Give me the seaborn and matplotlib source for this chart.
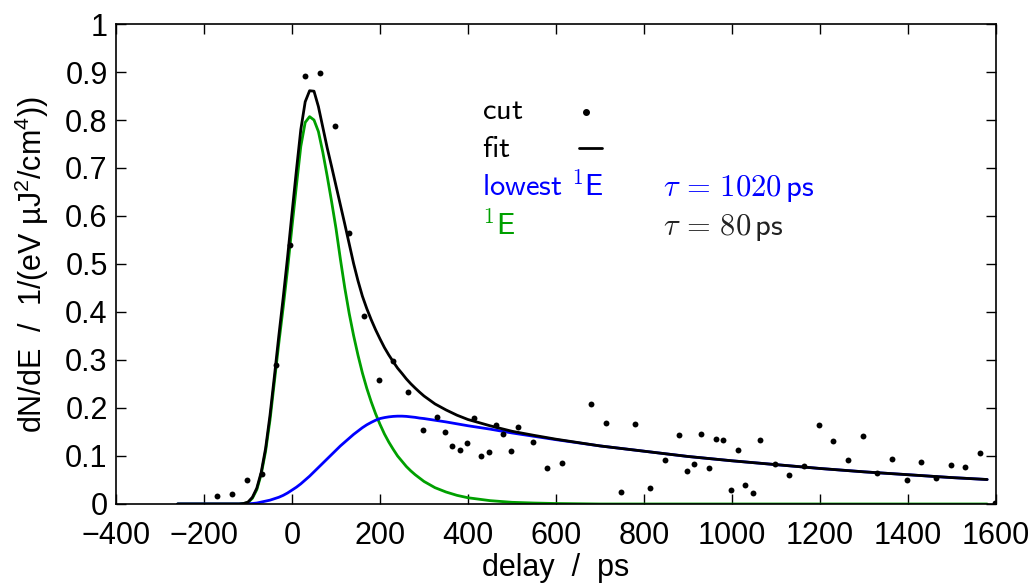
import numpy as np
import pandas as pd
import seaborn as sns
import matplotlib.pyplot as plt

# measured cut (delay in ps, dN/dE)
delay_cut = [-169.5, -135.5, -103, -69, -36.4, -3.6, 30.5, 63.7, 97, 129.6,
             163.7, 197.8, 230.4, 264.5, 297, 330.5, 347.8, 364.5, 381, 397,
             413.7, 430.4, 447, 463.6, 480.4, 497, 513.7, 547, 580.4, 613.6,
             680.4, 713.7, 747, 780.4, 813.7, 847, 880.4, 897, 913.7, 930.4,
             947, 963.7, 980.4, 997, 1013.7, 1030.4, 1047, 1063.7, 1097, 1130.4,
             1163.7, 1197, 1230.4, 1263.7, 1297, 1330.4, 1363.7, 1397, 1430.4, 1463.7,
             1497, 1530.4, 1563.7, 1597]
dnde_cut = [0.016, 0.020, 0.049, 0.0625, 0.290, 0.540, 0.892, 0.897, 0.788, 0.565,
            0.392, 0.258, 0.297, 0.233, 0.154, 0.181, 0.150, 0.121, 0.113, 0.128,
            0.179, 0.101, 0.108, 0.165, 0.146, 0.111, 0.160, 0.129, 0.074, 0.086,
            0.209, 0.168, 0.026, 0.166, 0.033, 0.092, 0.144, 0.068, 0.083, 0.146,
            0.076, 0.135, 0.133, 0.030, 0.1125, 0.040, 0.022, 0.133, 0.083, 0.061,
            0.0785, 0.165, 0.132, 0.092, 0.142, 0.065, 0.094, 0.050, 0.0875, 0.0535,
            0.082, 0.077, 0.1055, 0.003]

# fit curves
delay_fit = [-260, -120, -110, -100, -90, -80, -70, -60, -50, -40,
             -30, -20, -10, 0, 10, 20, 30, 40, 50, 60,
             70, 80, 90, 100, 110, 120, 130, 140, 150, 160,
             170, 180, 190, 200, 210, 220, 230, 240, 250, 260,
             270, 280, 290, 300, 325, 350, 375, 400, 450, 500,
             550, 600, 700, 800, 900, 1000, 1100, 1200, 1300, 1400,
             1500, 1580]
fit_total = [0, 0, 0.001, 0.004, 0.014, 0.033, 0.066, 0.116, 0.185, 0.266,
             0.35, 0.43, 0.515, 0.606, 0.695, 0.78, 0.838, 0.861, 0.86, 0.828,
             0.785, 0.742, 0.703, 0.663, 0.623, 0.583, 0.542, 0.501, 0.465, 0.433,
             0.407, 0.384, 0.363, 0.344, 0.326, 0.3105, 0.2965, 0.283, 0.272, 0.2605,
             0.2505, 0.2415, 0.233, 0.225, 0.2085, 0.196, 0.185, 0.176, 0.163, 0.1515,
             0.143, 0.135, 0.121, 0.110, 0.099, 0.090, 0.082, 0.074, 0.067, 0.061,
             0.055, 0.051]
fit_lowest_1E = [0, 0, 0, 0.0005, 0.001, 0.002, 0.004, 0.006, 0.008, 0.011,
                 0.014, 0.018, 0.023, 0.029, 0.035, 0.042, 0.05, 0.058, 0.067, 0.076,
                 0.085, 0.094, 0.103, 0.112, 0.121, 0.129, 0.137, 0.145, 0.152, 0.159,
                 0.165, 0.170, 0.1745, 0.178, 0.180, 0.1815, 0.1825, 0.183, 0.183, 0.1825,
                 0.1815, 0.1805, 0.179, 0.178, 0.1745, 0.171, 0.167, 0.163, 0.156, 0.148,
                 0.141, 0.134, 0.121, 0.110, 0.099, 0.090, 0.082, 0.074, 0.067, 0.061,
                 0.055, 0.051]
fit_1E = [0, 0, 0.001, 0.003, 0.012, 0.03, 0.062, 0.11, 0.175, 0.255,
          0.335, 0.41, 0.49, 0.578, 0.663, 0.745, 0.795, 0.807, 0.80, 0.776,
          0.733, 0.683, 0.63, 0.574, 0.51, 0.45, 0.397, 0.351, 0.310, 0.273,
          0.241, 0.213, 0.188, 0.166, 0.146, 0.129, 0.114, 0.100, 0.089, 0.078,
          0.069, 0.061, 0.054, 0.047, 0.034, 0.025, 0.018, 0.013, 0.007, 0.0035,
          0.002, 0.001, 0, 0, 0, 0, 0, 0, 0, 0,
          0, 0]

x_ticks = [-400, -200, 0, 200, 400, 600, 800, 1000, 1200, 1400, 1600]
y_ticks = [0, 0.1, 0.2, 0.3, 0.4, 0.5, 0.6, 0.7, 0.8, 0.9, 1]
y_ticklabels = ["0", "0.1", "0.2", "0.3", "0.4", "0.5", "0.6", "0.7", "0.8", "0.9", "1"]

green = "#00a000"
blue = "#0000ff"

sns.set_style("ticks")
plt.rcParams['font.family'] = ['Liberation Sans', 'DejaVu Sans']
plt.rcParams['mathtext.fontset'] = 'custom'
plt.rcParams['mathtext.rm'] = 'Liberation Sans'
plt.rcParams['mathtext.it'] = 'Liberation Sans:italic'
plt.rcParams['text.color'] = 'black'
plt.rcParams['axes.labelcolor'] = 'black'

fig, ax = plt.subplots(figsize=(10.34, 5.84), dpi=100)
fig.subplots_adjust(left=0.1122, right=0.9632, top=0.9589, bottom=0.137)

sns.lineplot(x=delay_fit, y=fit_1E, color=green, lw=2, errorbar=None, ax=ax, zorder=2)
sns.lineplot(x=delay_fit, y=fit_lowest_1E, color=blue, lw=2, errorbar=None, ax=ax, zorder=2)
sns.lineplot(x=delay_fit, y=fit_total, color="black", lw=2, errorbar=None, ax=ax, zorder=3)
sns.scatterplot(x=delay_cut, y=dnde_cut, color="black", s=18, linewidth=0, ax=ax, zorder=4)

ax.set_xlim(-400, 1600)
ax.set_ylim(0, 1)
ax.set_xticks(x_ticks)
ax.set_yticks(y_ticks)
ax.set_yticklabels(y_ticklabels)
ax.tick_params(direction="in", top=True, right=True, length=7, width=1,
               labelsize=22, pad=6, colors="black")
ax.tick_params(axis="x", pad=12)
for s in ax.spines.values():
    s.set_linewidth(1.2)
    s.set_color("black")

ax.set_xlabel("delay  /  ps", fontsize=22, labelpad=2)
ax.set_ylabel(r"dN/dE  /  1/(eV µJ$^2$/cm$^4$))", fontsize=22, labelpad=10)

# legend drawn by hand, columns like the original
fs = 22
tx = 0.4156
ax.text(tx, 0.8015, r"$\mathsf{cut}$", transform=ax.transAxes, fontsize=fs,
        math_fontfamily="cm", va="baseline")
ax.text(tx, 0.7223, r"$\mathsf{fit}$", transform=ax.transAxes, fontsize=fs,
        math_fontfamily="cm", va="baseline")
ax.text(tx, 0.6423, r"$\mathsf{lowest}\ {}^{1}\mathsf{E}$", transform=ax.transAxes,
        fontsize=fs, math_fontfamily="cm", va="baseline", color=blue)
ax.text(tx, 0.5604, r"${}^{1}\mathsf{E}$", transform=ax.transAxes, fontsize=fs,
        math_fontfamily="cm", va="baseline", color=green)
ax.plot([0.5341], [0.816], "o", ms=4, color="black", transform=ax.transAxes)
ax.plot([0.5261, 0.5519], [0.741, 0.741], "-", lw=2, color="black", transform=ax.transAxes)
ax.text(0.6219, 0.6423, r"$\tau\,=\,1020\,\mathsf{ps}$", transform=ax.transAxes,
        fontsize=fs, math_fontfamily="cm", va="baseline", color=blue)
ax.text(0.6219, 0.5604, r"$\tau\,=\,80\,\mathsf{ps}$", transform=ax.transAxes,
        fontsize=fs, math_fontfamily="cm", va="baseline", color="#222222")

plt.savefig("out.png", dpi=100)
